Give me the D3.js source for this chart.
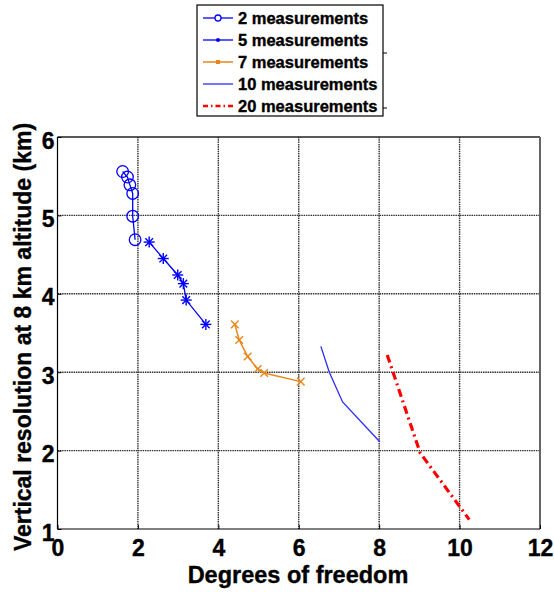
<!DOCTYPE html>
<html><head><meta charset="utf-8">
<script src="https://cdn.jsdelivr.net/npm/d3@7"></script>
<style>body{margin:0;background:#fff}svg{display:block}</style>
</head><body><svg id="c" width="554" height="592"></svg>
<script>
const xTicks = [0,2,4,6,8,10,12];
const yTicks = [1,2,3,4,5,6];
const seriesNames = ["2 measurements","5 measurements","7 measurements","10 measurements","20 measurements"];
const s2x = [1.62,1.74,1.80,1.87,1.87,1.93];
const s2y = [5.56,5.49,5.39,5.28,4.99,4.69];
const s5x = [2.28,2.63,2.99,3.13,3.20,3.69];
const s5y = [4.66,4.45,4.24,4.13,3.92,3.61];
const s7x = [4.41,4.52,4.73,4.98,5.14,6.05];
const s7y = [3.61,3.41,3.20,3.04,2.99,2.88];
const s10x = [6.55,6.76,7.09,8.02];
const s10y = [3.33,3.00,2.62,2.11];
const s20x = [8.20,9.02,10.24];
const s20y = [3.22,1.97,1.12];

const FONT = '"Liberation Sans", Arial, sans-serif';
const svg = d3.select("#c");
const L=57.5,R=540,T=137,B=529;
const x = d3.scaleLinear().domain([0,12]).range([L,R]);
const y = d3.scaleLinear().domain([1,6]).range([B,T]);

function bold(sel,size){
  return sel.style("font-family",FONT).style("font-weight","700").style("font-size",size+"px")
    .attr("fill","#000").attr("stroke","#000").attr("stroke-width",0.35);
}

// grid
const g = svg.append("g");
g.selectAll(".gx").data(xTicks.slice(1,-1)).enter().append("line")
 .attr("x1",d=>x(d)).attr("x2",d=>x(d)).attr("y1",T).attr("y2",B)
 .attr("stroke","#333").attr("stroke-width",1.4).attr("stroke-dasharray","1.5,0.8");
g.selectAll(".gy").data(yTicks.slice(1,-1)).enter().append("line")
 .attr("y1",d=>y(d)).attr("y2",d=>y(d)).attr("x1",L).attr("x2",R)
 .attr("stroke","#333").attr("stroke-width",1.4).attr("stroke-dasharray","1.5,0.8");

// frame
svg.append("line").attr("x1",L).attr("x2",R).attr("y1",T).attr("y2",T).attr("stroke","#222").attr("stroke-width",1.6);
svg.append("line").attr("x1",R).attr("x2",R).attr("y1",T).attr("y2",B).attr("stroke","#666").attr("stroke-width",2);
svg.append("line").attr("x1",L).attr("x2",R).attr("y1",B).attr("y2",B).attr("stroke","#000").attr("stroke-width",1.2);
svg.append("line").attr("x1",L).attr("x2",L).attr("y1",T).attr("y2",B).attr("stroke","#000").attr("stroke-width",1.2);

// axes
const xa = svg.append("g").attr("transform",`translate(0,${B})`)
 .call(d3.axisBottom(x).tickValues(xTicks).tickSize(-4).tickPadding(11).tickFormat(d3.format("d")));
xa.select(".domain").remove();
xa.attr("font-family",null).attr("font-size",null);
bold(xa.selectAll("text"),23);
const ya = svg.append("g").attr("transform",`translate(${L},0)`)
 .call(d3.axisLeft(y).tickValues(yTicks).tickSize(-4).tickPadding(3).tickFormat(d3.format("d")));
ya.select(".domain").remove();
ya.attr("font-family",null).attr("font-size",null);
bold(ya.selectAll("text"),23).attr("dy","0.48em");

bold(svg.append("text").attr("x",298).attr("y",583).attr("text-anchor","middle"),23.5).text("Degrees of freedom");
bold(svg.append("text").attr("transform",`translate(31,337) rotate(-90)`).attr("text-anchor","middle"),23)
 .text("Vertical resolution at 8 km altitude (km)");

const line = d3.line().x(d=>x(d[0])).y(d=>y(d[1]));
const zip=(a,b)=>a.map((v,i)=>[v,b[i]]);
const d2=zip(s2x,s2y), d5=zip(s5x,s5y), d7=zip(s7x,s7y), d10=zip(s10x,s10y), d20=zip(s20x,s20y);

function star(sel,c){ // MATLAB '*' marker
  const r=5.5;
  [[-r,0,r,0],[0,-r,0,r],[-r*0.7,-r*0.7,r*0.7,r*0.7],[-r*0.7,r*0.7,r*0.7,-r*0.7]].forEach(s=>
   sel.append("line").attr("x1",s[0]).attr("y1",s[1]).attr("x2",s[2]).attr("y2",s[3]).attr("stroke",c).attr("stroke-width",1.4));
}
function cross(sel,c){
  const r=3.8;
  [[-r,-r,r,r],[-r,r,r,-r]].forEach(s=>
   sel.append("line").attr("x1",s[0]).attr("y1",s[1]).attr("x2",s[2]).attr("y2",s[3]).attr("stroke",c).attr("stroke-width",1.4));
}
const blue="#0000ff", orange="#e8861a", blue2="#2b2bff", red="#ff0000";

svg.append("path").datum(d2).attr("d",line).attr("fill","none").attr("stroke",blue).attr("stroke-width",1.3);
svg.selectAll(".c2").data(d2).enter().append("circle").attr("cx",d=>x(d[0])).attr("cy",d=>y(d[1]))
 .attr("r",5.8).attr("fill","none").attr("stroke",blue).attr("stroke-width",1.3);

svg.append("path").datum(d5).attr("d",line).attr("fill","none").attr("stroke",blue).attr("stroke-width",1.3);
d5.forEach(d=>star(svg.append("g").attr("transform",`translate(${x(d[0])},${y(d[1])})`),blue));

svg.append("path").datum(d7).attr("d",line).attr("fill","none").attr("stroke",orange).attr("stroke-width",1.5);
d7.forEach(d=>cross(svg.append("g").attr("transform",`translate(${x(d[0])},${y(d[1])})`),orange));

svg.append("path").datum(d10).attr("d",line).attr("fill","none").attr("stroke",blue2).attr("stroke-width",1.3);
svg.append("path").datum(d20).attr("d",line).attr("fill","none").attr("stroke",red).attr("stroke-width",3.2)
 .attr("stroke-dasharray","8,4,2,4");

// legend
const lg = svg.append("g");
lg.append("rect").attr("x",197).attr("y",5).attr("width",186).attr("height",111)
 .attr("fill","#fff").attr("stroke","#000").attr("stroke-width",1.2);
[53,108].forEach(yy=>lg.append("line").attr("x1",383).attr("x2",387).attr("y1",yy).attr("y2",yy).attr("stroke","#000"));
const styles=[{c:blue,w:1.3,m:"o"},{c:blue,w:1.3,m:"*"},{c:orange,w:1.5,m:"x"},{c:blue2,w:1.3,m:""},{c:red,w:2.5,m:"",dash:"5,3,1.5,3"}];
seriesNames.forEach((n,i)=>{
  const yy=18+i*22, st=styles[i];
  lg.append("line").attr("x1",203).attr("x2",233).attr("y1",yy).attr("y2",yy).attr("stroke",st.c).attr("stroke-width",st.w)
    .attr("stroke-dasharray",st.dash||null);
  const mg=lg.append("g").attr("transform",`translate(218,${yy})`);
  if(st.m==="o") mg.append("circle").attr("r",3).attr("fill","#fff").attr("stroke",st.c).attr("stroke-width",1.3);
  if(st.m==="*") mg.append("circle").attr("r",2).attr("fill",st.c);
  if(st.m==="x") mg.append("rect").attr("x",-2).attr("y",-2).attr("width",4).attr("height",4).attr("fill",st.c);
  bold(lg.append("text").attr("x",238).attr("y",yy+6),16.5).text(n);
});
</script></body></html>
